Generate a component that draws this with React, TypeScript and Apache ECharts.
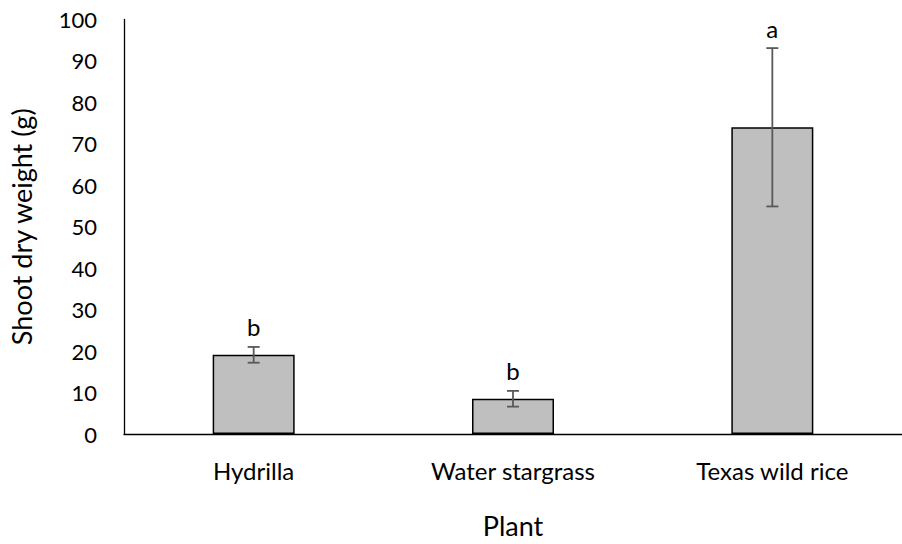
import React, { useEffect, useRef } from "react";
import * as echarts from "echarts";

const categories = ["Hydrilla", "Water stargrass", "Texas wild rice"];
const means = [19.1, 8.5, 74.0];
const errors = [1.9, 1.9, 19.1];
const letters = ["b", "b", "a"];
const yTicks = { min: 0, max: 100, interval: 10 };

const FONT = "Lato, 'Open Sans', sans-serif";

export default function App() {
  const ref = useRef<HTMLDivElement>(null);
  useEffect(() => {
    document.body.style.margin = "0";
    if (!ref.current) return;
    const chart = echarts.init(ref.current, undefined, { renderer: "svg" });
    const errData = categories.map((_, i) => [i, means[i], errors[i], letters[i]]);
    chart.setOption({
      animation: false,
      backgroundColor: "#ffffff",
      textStyle: { fontFamily: FONT },
      grid: { left: 124, right: -10, top: 19.5, bottom: 105.5, containLabel: false },
      xAxis: {
        type: "category",
        data: categories,
        name: "Plant",
        nameLocation: "middle",
        nameGap: 78,
        nameTextStyle: { fontSize: 27, color: "#000", fontFamily: FONT },
        axisLine: { show: true, lineStyle: { color: "#000", width: 1.3 } },
        axisTick: { show: false },
        axisLabel: { fontSize: 24, color: "#000", margin: 24, fontFamily: FONT },
      },
      yAxis: {
        type: "value",
        min: yTicks.min,
        max: yTicks.max,
        interval: yTicks.interval,
        name: "Shoot dry weight (g)",
        nameLocation: "middle",
        nameGap: 89,
        nameRotate: 90,
        nameTextStyle: { fontSize: 27, color: "#000", fontFamily: FONT },
        axisLine: { show: true, lineStyle: { color: "#000", width: 1.3 } },
        axisTick: { show: false },
        splitLine: { show: false },
        axisLabel: { fontSize: 22, color: "#000", margin: 27, fontFamily: FONT },
      },
      series: [
        {
          type: "bar",
          data: means,
          barWidth: 82,
          itemStyle: { color: "#BFBFBF", borderColor: "#000", borderWidth: 1.5 },
        },
        {
          type: "custom",
          data: errData,
          z: 10,
          renderItem: (params: any, api: any) => {
            const i = api.value(0);
            const m = api.value(1);
            const e = api.value(2);
            const letter = letters[params.dataIndex];
            const top = api.coord([i, m + e]);
            const bot = api.coord([i, m - e]);
            const cap = 6;
            const ls = { stroke: "#595959", lineWidth: 1.8 };
            return {
              type: "group",
              children: [
                { type: "line", shape: { x1: top[0], y1: top[1], x2: bot[0], y2: bot[1] }, style: ls },
                { type: "line", shape: { x1: top[0] - cap, y1: top[1], x2: top[0] + cap, y2: top[1] }, style: ls },
                { type: "line", shape: { x1: bot[0] - cap, y1: bot[1], x2: bot[0] + cap, y2: bot[1] }, style: ls },
                {
                  type: "text",
                  x: top[0],
                  y: top[1] - 8,
                  style: {
                    text: letter,
                    fontSize: 24,
                    fontFamily: FONT,
                    fill: "#000",
                    textAlign: "center",
                    textVerticalAlign: "bottom",
                  },
                },
              ],
            };
          },
        },
      ],
    });
    return () => chart.dispose();
  }, []);
  return <div ref={ref} style={{ width: 902, height: 544 }} />;
}
